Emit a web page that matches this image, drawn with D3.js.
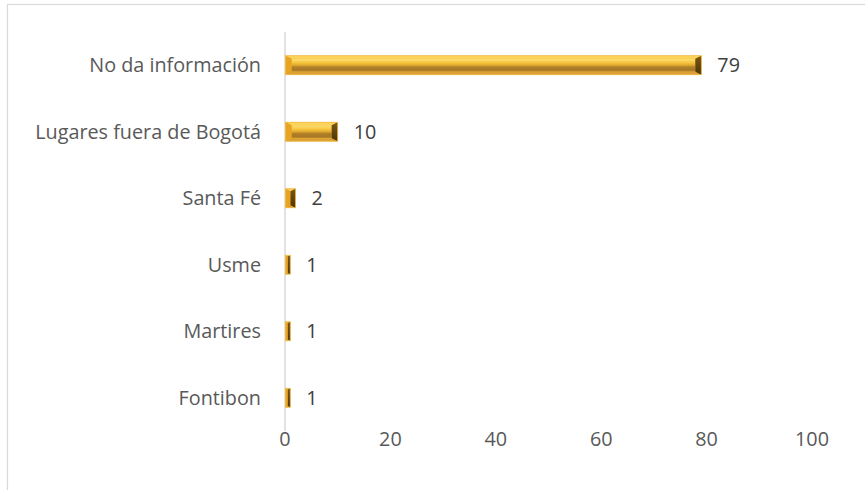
<!DOCTYPE html>
<html><head><meta charset="utf-8">
<script src="https://cdn.jsdelivr.net/npm/d3@7"></script>
<style>body{margin:0;background:#fff;} svg{display:block;}</style>
</head><body>
<svg id="c" width="865" height="490"></svg>
<script>
const categories = ["No da información","Lugares fuera de Bogotá","Santa Fé","Usme","Martires","Fontibon"];
const values = [79,10,2,1,1,1];
const ticks = [0,20,40,60,80,100];

const svg = d3.select("#c");
const font = "'Open Sans', sans-serif";
const fs = 19.8;
svg.append("rect").attr("x",7.5).attr("y",4.5).attr("width",880).attr("height",500)
  .attr("fill","#fff").attr("stroke","#d9d9d9").attr("stroke-width",1.2);

const x = d3.scaleLinear().domain([0,100]).range([285,812]);
const y = d3.scaleBand().domain(categories).range([32,431]).paddingInner(0.715).paddingOuter(0.357);

const defs = svg.append("defs");
const g1 = defs.append("linearGradient").attr("id","gc").attr("x1",0).attr("y1",0).attr("x2",0).attr("y2",1);
[[0,"#fde07a"],[0.3,"#f7c63e"],[0.5,"#e0a92e"],[0.62,"#b58428"],[0.85,"#a57626"],[1,"#c3902c"]]
 .forEach(s=>g1.append("stop").attr("offset",s[0]).attr("stop-color",s[1]));
const g2 = defs.append("linearGradient").attr("id","gr").attr("x1",0).attr("y1",0).attr("x2",0).attr("y2",1);
[[0,"#7a5516"],[1,"#4e3508"]].forEach(s=>g2.append("stop").attr("offset",s[0]).attr("stop-color",s[1]));

svg.append("line").attr("x1",x(0)).attr("x2",x(0)).attr("y1",32).attr("y2",431)
  .attr("stroke","#d9d9d9").attr("stroke-width",1.5);

const bars = svg.append("g");
categories.forEach((c,i)=>{
  const x0 = x(0)+0.5, x1 = x(values[i]), y0 = y(c), h = y.bandwidth(), y1 = y0+h;
  const w = x1-x0;
  const b = Math.min(6, w/2);
  const g = bars.append("g");
  g.append("rect").attr("x",x0).attr("y",y0).attr("width",w).attr("height",h).attr("fill","#e9ad2a");
  g.append("rect").attr("x",x0+b).attr("y",y0+b*0.5).attr("width",Math.max(0,w-2*b)).attr("height",h-b).attr("fill","url(#gc)");
  const p = pts=>pts.map(q=>q.join(",")).join(" ");
  g.append("polygon").attr("points",p([[x0,y0],[x1,y0],[x1-b,y0+b*0.5],[x0+b,y0+b*0.5]])).attr("fill","#fcd45a");
  g.append("polygon").attr("points",p([[x0,y1],[x1,y1],[x1-b,y1-b*0.5],[x0+b,y1-b*0.5]])).attr("fill","#dca034");
  g.append("polygon").attr("points",p([[x0,y0],[x0+b,y0+b*0.5],[x0+b,y1-b*0.5],[x0,y1]])).attr("fill","#e8a420");
  g.append("polygon").attr("points",p([[x1,y0],[x1-b,y0+b*0.5],[x1-b,y1-b*0.5],[x1,y1]])).attr("fill","url(#gr)");
  g.append("rect").attr("x",x0).attr("y",y0).attr("width",w).attr("height",h).attr("fill","none")
    .attr("stroke","#f0bb45").attr("stroke-width",0.8);

  svg.append("text").attr("x",x1+16).attr("y",y0+h/2).attr("dy","0.36em")
    .attr("font-family",font).attr("font-size",fs).attr("fill","#404040").text(values[i]);
  svg.append("text").attr("x",261).attr("y",y0+h/2).attr("dy","0.36em").attr("text-anchor","end")
    .attr("font-family",font).attr("font-size",fs).attr("fill","#595959").text(c);
});

ticks.forEach(t=>{
  svg.append("text").attr("x",x(t)).attr("y",439).attr("dy","0.36em").attr("text-anchor","middle")
    .attr("font-family",font).attr("font-size",fs).attr("fill","#595959").text(t);
});
</script>
</body></html>
